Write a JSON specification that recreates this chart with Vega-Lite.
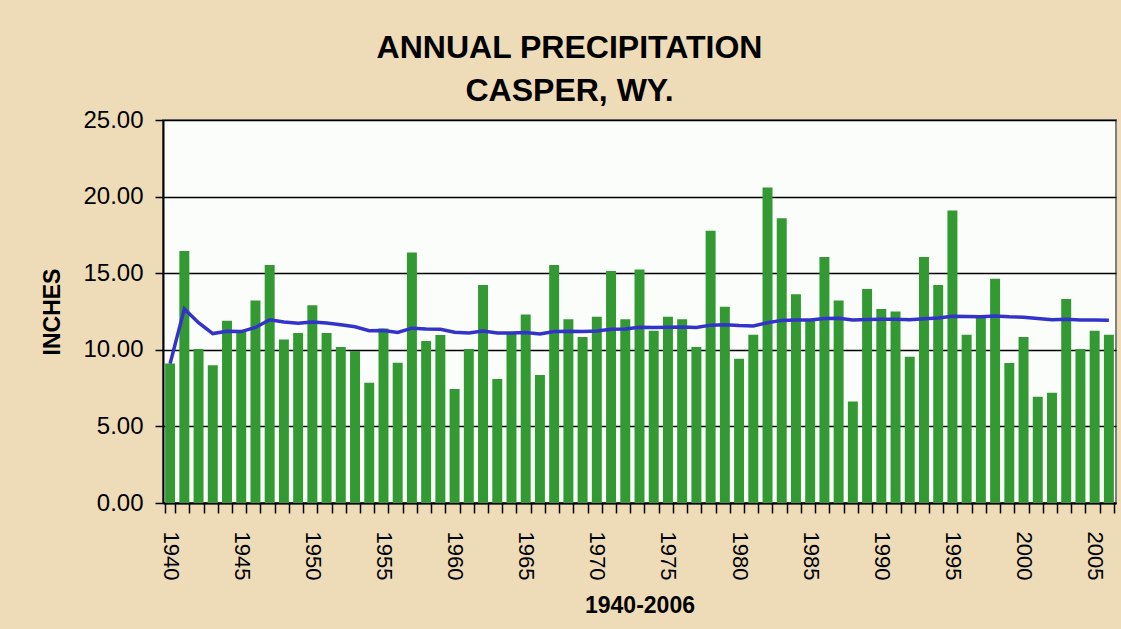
{
  "$schema": "https://vega.github.io/schema/vega-lite/v6.json",
  "width": 953,
  "height": 383,
  "autosize": {"type": "none"},
  "padding": {"left": 163, "top": 120, "right": 5, "bottom": 126},
  "background": "#eedcb8",
  "title": {
    "text": ["ANNUAL PRECIPITATION", "CASPER, WY."],
    "font": "Liberation Sans",
    "fontSize": 32,
    "fontWeight": "bold",
    "color": "#000000",
    "lineHeight": 43,
    "anchor": "middle",
    "dx": -70,
    "offset": 0
  },
  "config": {
    "view": {"fill": "#fbfdfa", "stroke": "#808080", "strokeWidth": 2},
    "axis": {"labelFont": "Liberation Sans", "titleFont": "Liberation Sans", "labelColor": "#000000", "titleColor": "#000000"}
  },
  "data": {
    "values": [
      {"year": 1940, "inches": 9.10, "avg": 9.10},
      {"year": 1941, "inches": 16.45, "avg": 12.67},
      {"year": 1942, "inches": 10.06, "avg": 11.77},
      {"year": 1943, "inches": 8.99, "avg": 11.06},
      {"year": 1944, "inches": 11.90, "avg": 11.21},
      {"year": 1945, "inches": 11.19, "avg": 11.19},
      {"year": 1946, "inches": 13.21, "avg": 11.46},
      {"year": 1947, "inches": 15.54, "avg": 11.96},
      {"year": 1948, "inches": 10.68, "avg": 11.81},
      {"year": 1949, "inches": 11.09, "avg": 11.73},
      {"year": 1950, "inches": 12.91, "avg": 11.82},
      {"year": 1951, "inches": 11.09, "avg": 11.75},
      {"year": 1952, "inches": 10.18, "avg": 11.63},
      {"year": 1953, "inches": 9.92, "avg": 11.50},
      {"year": 1954, "inches": 7.85, "avg": 11.25},
      {"year": 1955, "inches": 11.39, "avg": 11.26},
      {"year": 1956, "inches": 9.16, "avg": 11.13},
      {"year": 1957, "inches": 16.35, "avg": 11.41},
      {"year": 1958, "inches": 10.58, "avg": 11.36},
      {"year": 1959, "inches": 10.96, "avg": 11.34},
      {"year": 1960, "inches": 7.44, "avg": 11.15},
      {"year": 1961, "inches": 10.06, "avg": 11.10},
      {"year": 1962, "inches": 14.23, "avg": 11.23},
      {"year": 1963, "inches": 8.10, "avg": 11.10},
      {"year": 1964, "inches": 11.09, "avg": 11.09},
      {"year": 1965, "inches": 12.30, "avg": 11.13},
      {"year": 1966, "inches": 8.35, "avg": 11.03},
      {"year": 1967, "inches": 15.54, "avg": 11.19},
      {"year": 1968, "inches": 12.00, "avg": 11.21},
      {"year": 1969, "inches": 10.84, "avg": 11.20},
      {"year": 1970, "inches": 12.15, "avg": 11.22},
      {"year": 1971, "inches": 15.14, "avg": 11.34},
      {"year": 1972, "inches": 12.00, "avg": 11.36},
      {"year": 1973, "inches": 15.24, "avg": 11.47},
      {"year": 1974, "inches": 11.24, "avg": 11.46},
      {"year": 1975, "inches": 12.15, "avg": 11.48},
      {"year": 1976, "inches": 12.00, "avg": 11.49},
      {"year": 1977, "inches": 10.18, "avg": 11.45},
      {"year": 1978, "inches": 17.77, "avg": 11.61},
      {"year": 1979, "inches": 12.81, "avg": 11.64},
      {"year": 1980, "inches": 9.41, "avg": 11.58},
      {"year": 1981, "inches": 10.99, "avg": 11.56},
      {"year": 1982, "inches": 20.60, "avg": 11.77},
      {"year": 1983, "inches": 18.58, "avg": 11.92},
      {"year": 1984, "inches": 13.62, "avg": 11.95},
      {"year": 1985, "inches": 11.90, "avg": 11.95},
      {"year": 1986, "inches": 16.05, "avg": 12.04},
      {"year": 1987, "inches": 13.21, "avg": 12.06},
      {"year": 1988, "inches": 6.63, "avg": 11.95},
      {"year": 1989, "inches": 13.97, "avg": 11.98},
      {"year": 1990, "inches": 12.67, "avg": 12.00},
      {"year": 1991, "inches": 12.50, "avg": 12.00},
      {"year": 1992, "inches": 9.54, "avg": 11.96},
      {"year": 1993, "inches": 16.05, "avg": 12.03},
      {"year": 1994, "inches": 14.23, "avg": 12.07},
      {"year": 1995, "inches": 19.09, "avg": 12.19},
      {"year": 1996, "inches": 10.99, "avg": 12.17},
      {"year": 1997, "inches": 12.15, "avg": 12.16},
      {"year": 1998, "inches": 14.63, "avg": 12.21},
      {"year": 1999, "inches": 9.14, "avg": 12.15},
      {"year": 2000, "inches": 10.84, "avg": 12.13},
      {"year": 2001, "inches": 6.93, "avg": 12.04},
      {"year": 2002, "inches": 7.19, "avg": 11.96},
      {"year": 2003, "inches": 13.31, "avg": 11.99},
      {"year": 2004, "inches": 10.06, "avg": 11.95},
      {"year": 2005, "inches": 11.24, "avg": 11.94},
      {"year": 2006, "inches": 10.99, "avg": 11.93}
    ]
  },
  "encoding": {
    "x": {
      "field": "year",
      "type": "ordinal",
      "scale": {"paddingInner": 0.3, "paddingOuter": 0.15},
      "axis": {
        "title": "1940-2006",
        "titleFontSize": 23,
        "titleFontWeight": "bold",
        "titlePadding": 15,
        "labelAngle": 90,
        "labelAlign": "left",
        "labelBaseline": "middle",
        "labelFontSize": 22,
        "labelPadding": 18,
        "labelExpr": "datum.value % 5 == 0 ? datum.label : ''",
        "tickBand": "extent",
        "tickSize": 10,
        "tickColor": "#000000",
        "tickWidth": 1.5,
        "domainColor": "#000000",
        "domainWidth": 2,
        "grid": false
      }
    }
  },
  "layer": [
    {
      "mark": {"type": "bar", "color": "#339933"},
      "encoding": {
        "y": {
          "field": "inches",
          "type": "quantitative",
          "scale": {"domain": [0, 25], "nice": false},
          "axis": {
            "title": "INCHES",
            "titleFontSize": 23,
            "titleFontWeight": "bold",
            "titlePadding": 18,
            "values": [0, 5, 10, 15, 20, 25],
            "format": ".2f",
            "labelFontSize": 24,
            "labelPadding": 12,
            "tickSize": 8,
            "tickColor": "#000000",
            "tickWidth": 1.5,
            "domainColor": "#000000",
            "domainWidth": 2,
            "grid": true,
            "gridColor": "#000000",
            "gridWidth": 1.5,
            "gridOpacity": 1
          }
        }
      }
    },
    {
      "mark": {"type": "line", "color": "#3333cc", "strokeWidth": 3.5},
      "encoding": {
        "y": {"field": "avg", "type": "quantitative"}
      }
    }
  ]
}
